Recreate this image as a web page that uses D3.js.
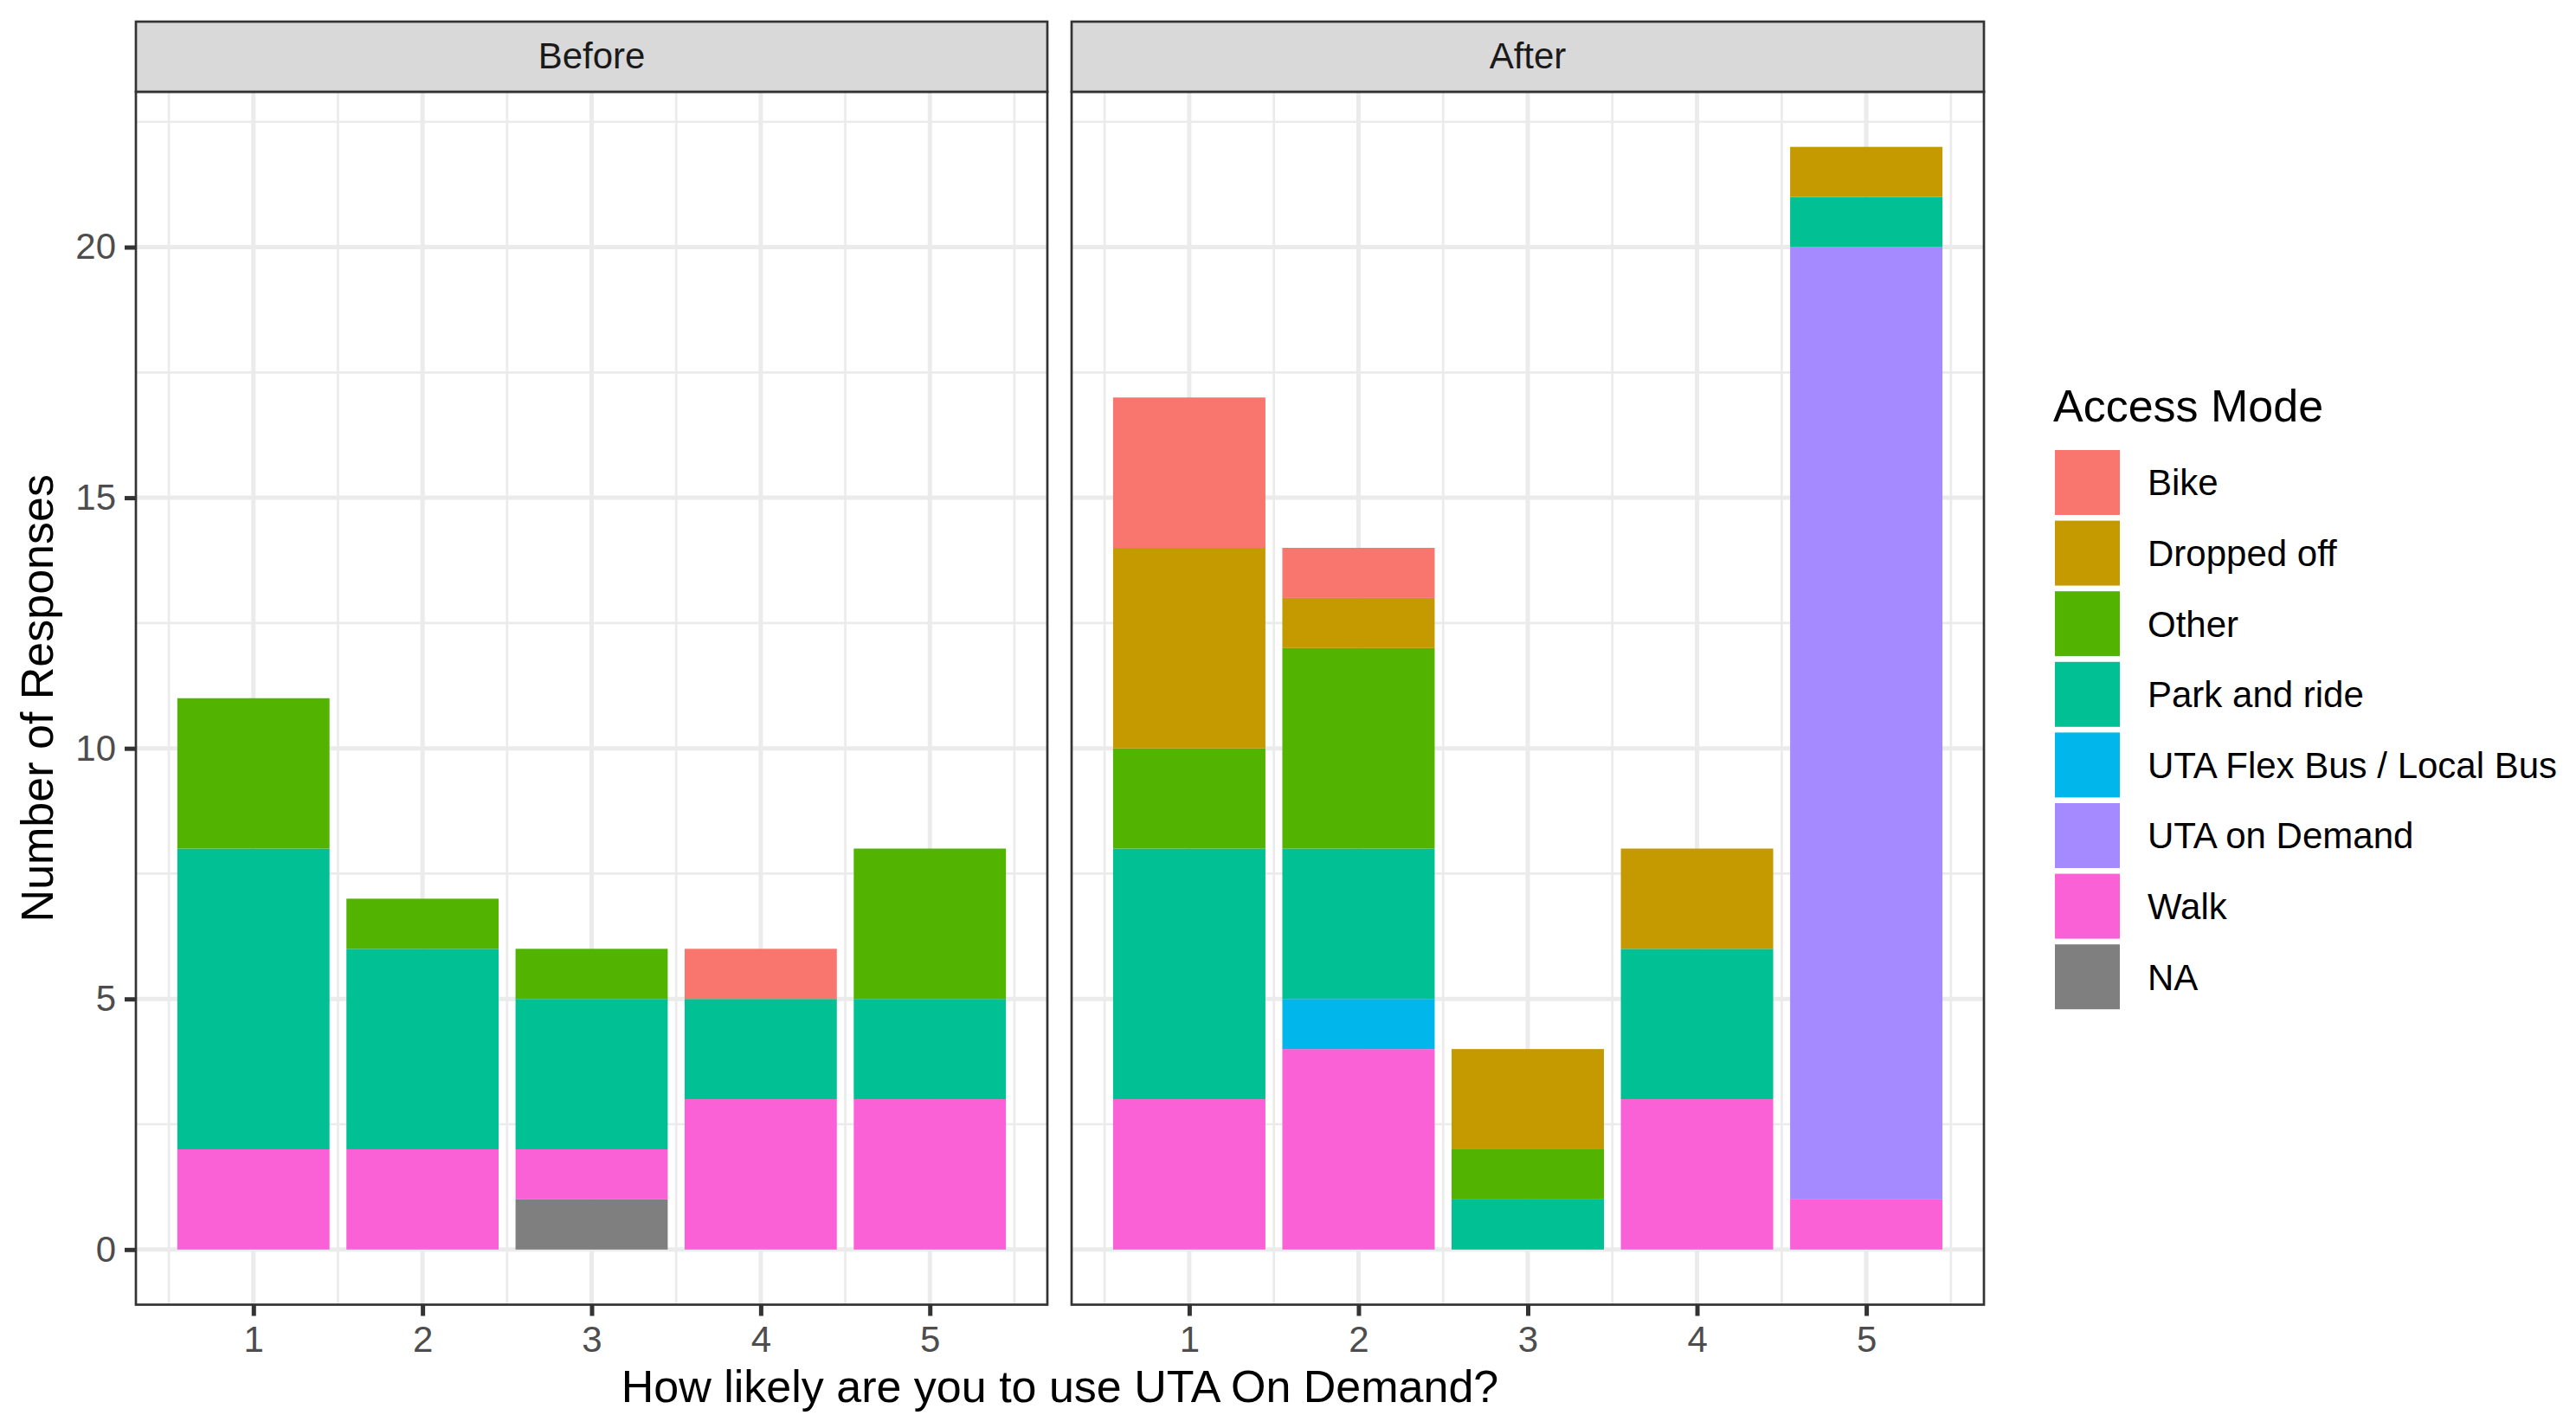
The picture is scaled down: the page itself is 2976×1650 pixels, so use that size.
<!DOCTYPE html>
<html>
<head>
<meta charset="utf-8">
<script src="https://cdn.jsdelivr.net/npm/d3@7"></script>
<style>
  body { margin: 0; background: #fff; }
  text { font-family: "Liberation Sans", Arial, sans-serif; }
</style>
</head>
<body>
<script>
// ── Data ───────────────────────────────────────────────────────────
const likelihood = [1, 2, 3, 4, 5];
const panels = ['Before', 'After'];
const modes = ['Bike', 'Dropped off', 'Other', 'Park and ride',
  'UTA Flex Bus / Local Bus', 'UTA on Demand', 'Walk', 'NA'];
const modeColors = ['#F8766D', '#C49A00', '#53B400', '#00C094',
  '#00B6EB', '#A58AFF', '#FB61D7', '#7F7F7F'];

// one row per mode (same order as `modes`), one value per likelihood 1..5
const beforeCounts = [
  [0, 0, 0, 1, 0],   // Bike
  [0, 0, 0, 0, 0],   // Dropped off
  [3, 1, 1, 0, 3],   // Other
  [6, 4, 3, 2, 2],   // Park and ride
  [0, 0, 0, 0, 0],   // UTA Flex Bus / Local Bus
  [0, 0, 0, 0, 0],   // UTA on Demand
  [2, 2, 1, 3, 3],   // Walk
  [0, 0, 1, 0, 0]    // NA
];
const afterCounts = [
  [3, 1, 0, 0, 0],
  [4, 1, 2, 2, 1],
  [2, 4, 1, 0, 0],
  [5, 3, 1, 3, 1],
  [0, 1, 0, 0, 0],
  [0, 0, 0, 0, 19],
  [3, 4, 0, 3, 1],
  [0, 0, 0, 0, 0]
];

const yMajor = [0, 5, 10, 15, 20];
const yMinor = [2.5, 7.5, 12.5, 17.5, 22.5];
const xMinor = [0.5, 1.5, 2.5, 3.5, 4.5, 5.5];

// ── Layout ─────────────────────────────────────────────────────────
const width = 2976;
const height = 1650;
const panelTop = 106, panelBottom = 1507.5;
const stripTop = 25;
const panelX = [[157, 1210], [1238, 2292]];
const lineColor = '#333333';

const svg = d3.select('body')
  .append('svg')
  .attr('width', width)
  .attr('height', height);

const y = d3.scaleLinear()
  .domain([-1.1, 23.1])
  .range([panelBottom, panelTop]);

const color = d3.scaleOrdinal().domain(modes).range(modeColors);

function toRows(counts) {
  return likelihood.map((l, i) => {
    const row = { likelihood: l };
    modes.forEach((m, j) => { row[m] = counts[j][i]; });
    return row;
  });
}

// NA sits at the bottom, Bike on top
const stack = d3.stack().keys(modes.slice().reverse());

[beforeCounts, afterCounts].forEach((counts, p) => {
  const [x0, x1] = panelX[p];
  const x = d3.scaleLinear().domain([0.305, 5.695]).range([x0, x1]);
  const g = svg.append('g');

  // grid
  g.selectAll('.ymin').data(yMinor).join('line')
    .attr('x1', x0).attr('x2', x1)
    .attr('y1', d => y(d)).attr('y2', d => y(d))
    .attr('stroke', '#EBEBEB').attr('stroke-width', 2.7);
  g.selectAll('.xmin').data(xMinor).join('line')
    .attr('x1', d => x(d)).attr('x2', d => x(d))
    .attr('y1', panelTop).attr('y2', panelBottom)
    .attr('stroke', '#EBEBEB').attr('stroke-width', 2.7);
  g.selectAll('.ymaj').data(yMajor).join('line')
    .attr('x1', x0).attr('x2', x1)
    .attr('y1', d => y(d)).attr('y2', d => y(d))
    .attr('stroke', '#EBEBEB').attr('stroke-width', 5);
  g.selectAll('.xmaj').data(likelihood).join('line')
    .attr('x1', d => x(d)).attr('x2', d => x(d))
    .attr('y1', panelTop).attr('y2', panelBottom)
    .attr('stroke', '#EBEBEB').attr('stroke-width', 5);

  // bars
  const series = stack(toRows(counts));
  g.selectAll('.layer').data(series).join('g')
    .attr('fill', d => color(d.key))
    .selectAll('rect')
    .data(d => d.filter(s => s[1] > s[0]))
    .join('rect')
    .attr('x', d => x(d.data.likelihood - 0.45))
    .attr('width', d => x(d.data.likelihood + 0.45) - x(d.data.likelihood - 0.45))
    .attr('y', d => y(d[1]))
    .attr('height', d => y(d[0]) - y(d[1]));

  // panel border
  g.append('rect')
    .attr('x', x0).attr('y', panelTop)
    .attr('width', x1 - x0).attr('height', panelBottom - panelTop)
    .attr('fill', 'none').attr('stroke', lineColor).attr('stroke-width', 2.7);

  // strip
  g.append('rect')
    .attr('x', x0).attr('y', stripTop)
    .attr('width', x1 - x0).attr('height', panelTop - stripTop)
    .attr('fill', '#D9D9D9').attr('stroke', lineColor).attr('stroke-width', 2.7);
  g.append('text')
    .attr('x', (x0 + x1) / 2).attr('y', 79)
    .attr('text-anchor', 'middle')
    .style('font-size', '42px').style('fill', '#1A1A1A')
    .text(panels[p]);

  // x axis
  const ax = g.append('g')
    .attr('transform', `translate(0, ${panelBottom})`)
    .call(d3.axisBottom(x).tickValues(likelihood).tickFormat(d3.format('d'))
      .tickSize(13).tickPadding(12));
  ax.select('.domain').remove();
  ax.selectAll('line').attr('stroke', lineColor).attr('stroke-width', 5);
  ax.selectAll('text')
    .style('font-size', '42px').style('fill', '#4D4D4D')
    .style('font-family', '"Liberation Sans", Arial, sans-serif');
});

// y axis
const ay = svg.append('g')
  .attr('transform', `translate(${panelX[0][0]}, 0)`)
  .call(d3.axisLeft(y).tickValues(yMajor).tickFormat(d3.format('d'))
    .tickSize(13).tickPadding(10));
ay.select('.domain').remove();
ay.selectAll('line').attr('stroke', lineColor).attr('stroke-width', 5);
ay.selectAll('text')
  .style('font-size', '42px').style('fill', '#4D4D4D')
  .style('font-family', '"Liberation Sans", Arial, sans-serif');

// axis titles
svg.append('text')
  .attr('x', (panelX[0][0] + panelX[1][1]) / 2)
  .attr('y', 1620)
  .attr('text-anchor', 'middle')
  .style('font-size', '52px')
  .text('How likely are you to use UTA On Demand?');

svg.append('text')
  .attr('transform', `translate(61, ${(panelTop + panelBottom) / 2}) rotate(-90)`)
  .attr('text-anchor', 'middle')
  .style('font-size', '52px')
  .text('Number of Responses');

// ── Legend ─────────────────────────────────────────────────────────
const legend = svg.append('g');
legend.append('text')
  .attr('x', 2372).attr('y', 487)
  .style('font-size', '52px')
  .text('Access Mode');

const keyY = d3.scaleBand().domain(modes).range([516.5, 516.5 + 81.6 * modes.length]);

legend.selectAll('.key').data(modes).join('rect')
  .attr('x', 2374)
  .attr('y', d => keyY(d) + 3.5)
  .attr('width', 75).attr('height', 75)
  .attr('fill', d => color(d));

legend.selectAll('.lab').data(modes).join('text')
  .attr('x', 2481)
  .attr('y', d => keyY(d) + keyY.bandwidth() / 2 + 15)
  .style('font-size', '42px')
  .text(d => d);
</script>
</body>
</html>
